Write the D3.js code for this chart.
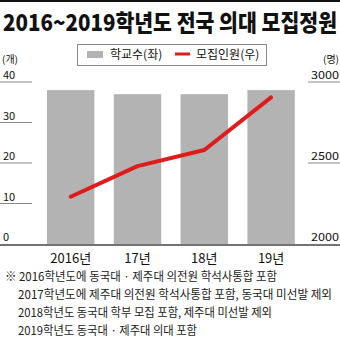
<!DOCTYPE html>
<html>
<head>
<meta charset="utf-8">
<script src="https://cdn.jsdelivr.net/npm/d3@7"></script>
<style>
  body { margin: 0; background: #fff; }
  svg text { font-family: "Noto Sans CJK KR", "Noto Sans", sans-serif; }
</style>
</head>
<body>
<div id="chart"></div>
<script>
const years = ["2016년", "17년", "18년", "19년"];
const schools = [38, 37, 37, 38];
const quota = [2292, 2481, 2580, 2905];
const leftTicks = [0, 10, 20, 30, 40];
const rightTicks = [2000, 2500, 3000];
const notes = [
  "※ 2016학년도에 동국대 · 제주대 의전원 학석사통합 포함",
  "2017학년도에 제주대 의전원 학석사통합 포함, 동국대 미선발 제외",
  "2018학년도 동국대 학부 모집 포함, 제주대 미선발 제외",
  "2019학년도 동국대 · 제주대 의대 포함"
];

const width = 340, height = 338;
const svg = d3.select("#chart").append("svg")
  .attr("width", width)
  .attr("height", height);

svg.append("rect").attr("x", 0).attr("y", 0).attr("width", width).attr("height", 2).attr("fill", "#111");

svg.append("text")
  .attr("x", 3).attr("y", 31)
  .attr("textLength", 334).attr("lengthAdjust", "spacingAndGlyphs")
  .style("font-size", "23px").style("font-weight", "900").attr("fill", "#111")
  .text("2016~2019학년도 전국 의대 모집정원");

const x = d3.scaleBand().domain(years).range([27.6, 314.2]).paddingInner(0.29).paddingOuter(0.29);
const yL = d3.scaleLinear().domain([0, 40]).range([244, 82]);
const yR = d3.scaleLinear().domain([2000, 3000]).range([244, 82]);

// tick lines + labels
svg.selectAll(".lt").data(leftTicks.filter(d => d > 0)).enter().append("line")
  .attr("x1", 0).attr("x2", 32).attr("y1", d => yL(d)).attr("y2", d => yL(d))
  .attr("stroke", "#888").attr("stroke-width", 1);
svg.selectAll(".ltx").data(leftTicks).enter().append("text")
  .attr("x", 3).attr("y", d => yL(d) - 3)
  .style("font-size", "11px").attr("fill", "#111")
  .text(d => d);
svg.selectAll(".rt").data(rightTicks.filter(d => d > 2000)).enter().append("line")
  .attr("x1", 308).attr("x2", 340).attr("y1", d => yR(d)).attr("y2", d => yR(d))
  .attr("stroke", "#888").attr("stroke-width", 1);
svg.selectAll(".rtx").data(rightTicks).enter().append("text")
  .attr("x", 339).attr("y", d => yR(d) - 3).attr("text-anchor", "end")
  .attr("textLength", 28).attr("lengthAdjust", "spacingAndGlyphs")
  .style("font-size", "11px").attr("fill", "#111")
  .text(d => d);

svg.append("text").attr("x", 2).attr("y", 63).style("font-size", "10px").attr("fill", "#111").text("(개)");
svg.append("text").attr("x", 339).attr("y", 63).attr("text-anchor", "end").style("font-size", "10px").attr("fill", "#111").text("(명)");

// bars
svg.selectAll(".bar").data(schools).enter().append("rect")
  .attr("x", (d, i) => x(years[i]))
  .attr("y", d => yL(d))
  .attr("width", x.bandwidth())
  .attr("height", d => yL(0) - yL(d))
  .attr("fill", "#b3b3b3");

// baseline
svg.append("line").attr("x1", 0).attr("x2", width).attr("y1", 245).attr("y2", 245)
  .attr("stroke", "#444").attr("stroke-width", 1.5);

// line
const line = d3.line()
  .x((d, i) => x(years[i]) + x.bandwidth() / 2)
  .y(d => yR(d));
svg.append("path").datum(quota)
  .attr("d", line)
  .attr("fill", "none").attr("stroke", "#e01b1b").attr("stroke-width", 4)
  .attr("stroke-linecap", "round").attr("stroke-linejoin", "round");

// x labels
svg.selectAll(".xl").data(years).enter().append("text")
  .attr("x", d => x(d) + x.bandwidth() / 2).attr("y", 263)
  .attr("text-anchor", "middle")
  .style("font-size", "13px").attr("fill", "#111")
  .text(d => d);

// legend
svg.append("rect").attr("x", 77.5).attr("y", 44.5).attr("width", 189).attr("height", 21)
  .attr("fill", "#fff").attr("stroke", "#888").attr("stroke-width", 1);
svg.append("rect").attr("x", 87).attr("y", 51).attr("width", 16).attr("height", 7).attr("fill", "#b3b3b3");
svg.append("text").attr("x", 110).attr("y", 59).style("font-size", "12px").attr("fill", "#111").text("학교수(좌)");
svg.append("line").attr("x1", 175).attr("x2", 190).attr("y1", 54).attr("y2", 54)
  .attr("stroke", "#e01b1b").attr("stroke-width", 3);
svg.append("text").attr("x", 196).attr("y", 59).style("font-size", "12px").attr("fill", "#111").text("모집인원(우)");

// notes
const noteX = [5, 18, 18, 18];
const noteW = [272, 314, 254, 179];
const noteY = [281, 299, 317, 335];
svg.selectAll(".note").data(notes).enter().append("text")
  .attr("x", (d, i) => noteX[i]).attr("y", (d, i) => noteY[i])
  .attr("textLength", (d, i) => noteW[i]).attr("lengthAdjust", "spacingAndGlyphs")
  .style("font-size", "12px").attr("fill", "#222")
  .text(d => d);
</script>
</body>
</html>
